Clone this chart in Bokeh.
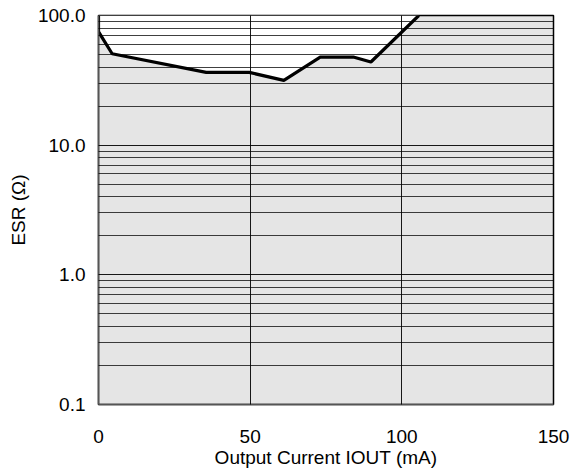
from bokeh.plotting import figure
from bokeh.models import FixedTicker, Range1d
from bokeh.embed import file_html
from bokeh.resources import INLINE

# Stable-region boundary (ESR vs output current)
iout = [0, 0, 4.5, 35.5, 49.7, 61.1, 73.1, 84.0, 89.8, 105.6]
esr = [100, 75, 50.7, 36.4, 36.4, 31.6, 47.8, 47.8, 43.8, 100]

x_ticks = [0, 50, 100, 150]
y_major = [0.1, 1, 10, 100]
y_minor = [d * m for d in [0.1, 1, 10] for m in range(2, 10)]
y_labels = {0.1: "0.1", 1: "1.0", 10: "10.0", 100: "100.0"}

FONT = "Liberation Sans"

p = figure(frame_width=455, frame_height=389, y_axis_type="log",
           x_range=Range1d(0, 150), y_range=Range1d(0.1, 100),
           output_backend="svg", toolbar_location=None,
           min_border_left=98, min_border_right=19, min_border_top=15, min_border_bottom=65)

p.background_fill_color = "#e5e5e5"
p.border_fill_color = "white"
p.outline_line_color = "black"
p.outline_line_width = 1.5

# white (unstable) region above the curve
p.patch(iout + [0], esr + [100], fill_color="white", line_color=None)
p.line(iout, esr, line_color="black", line_width=3.2)

p.xaxis.ticker = FixedTicker(ticks=x_ticks)
p.yaxis.ticker = FixedTicker(ticks=y_major, minor_ticks=y_minor)
p.yaxis.major_label_overrides = y_labels

for g in (p.xgrid, p.ygrid):
    g.grid_line_color = "black"
    g.grid_line_width = 1
    g.grid_line_alpha = 0.9
    g.level = "overlay"
p.ygrid.minor_grid_line_color = "black"
p.ygrid.minor_grid_line_alpha = 0.75
p.ygrid.minor_grid_line_width = 1

for ax in (p.xaxis, p.yaxis):
    ax.major_tick_line_color = None
    ax.minor_tick_line_color = None
    ax.axis_line_color = "#555555"
    ax.axis_line_width = 1.5
    ax.major_label_text_font = FONT
    ax.major_label_text_font_size = "19px"
    ax.major_label_text_color = "black"
    ax.axis_label_text_font = FONT
    ax.axis_label_text_font_size = "19px"
    ax.axis_label_text_font_style = "normal"
    ax.axis_label_text_color = "black"

p.xaxis.axis_label = "Output Current IOUT (mA)"
p.yaxis.axis_label = "ESR (Ω)"
p.xaxis.major_label_standoff = 19
p.xaxis.axis_label_standoff = 1
p.yaxis.major_label_standoff = 7
p.yaxis.axis_label_standoff = 6

open("out.html", "w").write(file_html(p, INLINE))
